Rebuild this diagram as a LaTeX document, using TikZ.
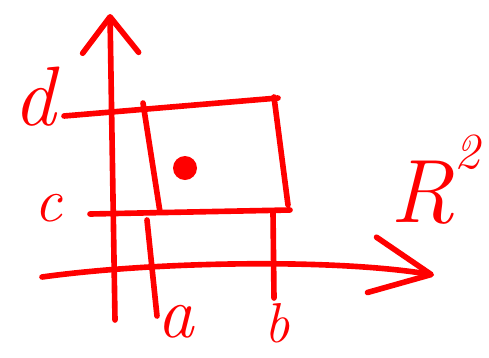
\documentclass[tikz,border=0pt]{standalone}
\usepackage{fontspec}
\usepackage{tikz}
\usetikzlibrary{arrows.meta}
\tikzstyle{pen}=[red, line width=4pt, line cap=round, line join=round]
\tikzstyle{lbl}=[red, inner sep=0pt, font=\fontsize{44}{44}\selectfont\itshape]
\tikzstyle{dotnode}=[red, fill=red, shape=circle, inner sep=0pt, minimum width=6mm, minimum height=5mm]

\begin{document}
\begin{tikzpicture}[x=0.25mm, y=-0.25mm]
\useasboundingbox (0,0) rectangle (489,357);
% axes
\coordinate (ybot) at (115,320);
\coordinate (ytop) at (110,14);
\coordinate (xleft) at (42,277);
\coordinate (xright) at (434,275);
% rectangle corners and guide ends
\coordinate (dleft) at (64,116);
\coordinate (dright) at (278,98);
\coordinate (cleft) at (90,214);
\coordinate (cright) at (290,210);
\coordinate (lefttop) at (143,103);
\coordinate (leftbot) at (160,212);
\coordinate (righttop) at (274,97);
\coordinate (rightbot) at (288,205);
\coordinate (atop) at (147,220);
\coordinate (abot) at (157,316);
\coordinate (btop) at (273,212);
\coordinate (bbot) at (274,298);

\node [lbl, font=\fontsize{60}{60}\selectfont\itshape] (d) at (35,97) {d};
\node [lbl] (c) at (48,208) {c};
\node [lbl, font=\fontsize{52}{52}\selectfont\itshape] (a) at (176,322) {a};
\node [lbl, font=\fontsize{40}{40}\selectfont\itshape] (b) at (277,323) {b};
\node [lbl, font=\fontsize{64}{64}\selectfont\itshape] (r2) at (435,180) {R\raisebox{0.6em}{\fontsize{36}{36}\selectfont 2}};
\node [dotnode] (pt) at (185,168) {};

\draw[pen, -{Straight Barb[round, length=9mm, width=14mm]}] (ybot) -- (ytop);
\draw[pen, -{Straight Barb[round, length=15mm, width=14mm]}] (xleft) .. controls (150,262) and (330,258) .. (xright);
\draw[pen] (dleft) -- (dright);
\draw[pen] (cleft) -- (cright);
\draw[pen] (lefttop) -- (leftbot);
\draw[pen] (righttop) -- (rightbot);
\draw[pen] (atop) -- (abot);
\draw[pen] (btop) -- (bbot);
\end{tikzpicture}
\end{document}
